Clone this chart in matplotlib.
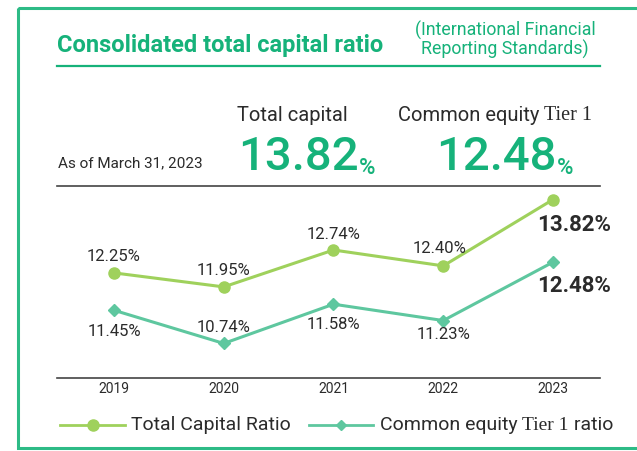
import matplotlib
matplotlib.use('Agg')
import matplotlib.pyplot as plt
from matplotlib import font_manager
from matplotlib.patches import Rectangle

years = ['2019', '2020', '2021', '2022', '2023']
total_ratio = [12.25, 11.95, 12.74, 12.40, 13.82]
cet1_ratio = [11.45, 10.74, 11.58, 11.23, 12.48]
total_labels = ['12.25%', '11.95%', '12.74%', '12.40%', '13.82%']
cet1_labels = ['11.45%', '10.74%', '11.58%', '11.23%', '12.48%']

GREEN = '#16b27a'
LIGHT = '#9fd15c'
TEAL = '#5ec79f'
DARK = '#2b2b2b'

names = {f.name for f in font_manager.fontManager.ttflist}
sans = 'Liberation Sans Narrow' if 'Liberation Sans Narrow' in names else 'Roboto'
serif = 'Liberation Serif'
plt.rcParams['font.family'] = [sans, 'DejaVu Sans']

W, H = 637, 451
fig = plt.figure(figsize=(W / 100, H / 100), dpi=100)

# invisible full-size axes in pixel units for all the header / legend text
ov = fig.add_axes([0, 0, 1, 1])
ov.set_xlim(0, W)
ov.set_ylim(H, 0)
ov.axis('off')


def after(prev, s, **kw):
    # put the next piece of text right after the previous one
    return ov.annotate(s, xy=(1, 0), xycoords=prev, va='bottom', **kw)


# frame
ov.add_patch(Rectangle((18, 8), W + 20, 440, fill=False, edgecolor='#2dbb86',
                       linewidth=2.2, clip_on=False))

# title
ov.text(57, 52, 'Consolidated total capital ratio', fontsize=17, fontweight='bold',
        color=GREEN, va='baseline')
ov.text(505, 40, '(International Financial\nReporting Standards)', fontsize=12.8,
        color=GREEN, ha='center', va='center', linespacing=0.95)
ov.plot([57, 600], [66, 66], color=GREEN, linewidth=1.6)

# headline numbers
ov.text(237, 121, 'Total capital', fontsize=14.5, color=DARK, va='baseline')
t = ov.text(398, 121, 'Common equity ', fontsize=14.5, color=DARK, va='baseline')
after(t, 'Tier 1', fontsize=14.5, color=DARK, family=serif)
ov.text(58, 167, 'As of March 31, 2023', fontsize=11, color=DARK, va='baseline')
t = ov.text(238, 170, '13.82', fontsize=34, fontweight='medium', color=GREEN, va='baseline')
after(t, '%', fontsize=16, fontweight='medium', color=GREEN)
t = ov.text(436, 170, '12.48', fontsize=34, fontweight='medium', color=GREEN, va='baseline')
after(t, '%', fontsize=16, fontweight='medium', color=GREEN)
ov.plot([57, 600], [186, 186], color='#444444', linewidth=1.2)

# line chart
ax = fig.add_axes([57 / W, 1 - 378 / H, 543 / W, 192 / H])
ax.patch.set_alpha(0)
xs = list(range(len(years)))
ax.plot(xs, total_ratio, color=LIGHT, linewidth=2.2, marker='o', markersize=8)
ax.plot(xs, cet1_ratio, color=TEAL, linewidth=2.2, marker='D', markersize=6)
ax.set_xlim(-0.519, 4.428)
ax.set_ylim(10.0, 14.11)
for s in ['top', 'left', 'right']:
    ax.spines[s].set_visible(False)
ax.spines['bottom'].set_color('#444444')
ax.spines['bottom'].set_linewidth(1.2)
ax.set_yticks([])
ax.set_xticks(xs)
ax.set_xticklabels(years, fontsize=10, color=DARK)
ax.tick_params(axis='x', length=0, pad=3)

total_off = [(0, 16), (0, 16), (0, 16), (-4, 17)]
cet1_off = [(0, -21), (0, 16), (0, -20), (0, -14)]
for i in range(4):
    ax.annotate(total_labels[i], (xs[i], total_ratio[i]), xytext=total_off[i],
                textcoords='offset pixels', ha='center', va='center', fontsize=12, color=DARK)
    ax.annotate(cet1_labels[i], (xs[i], cet1_ratio[i]), xytext=cet1_off[i],
                textcoords='offset pixels', ha='center', va='center', fontsize=12, color=DARK)
ax.annotate(total_labels[4], (xs[4], total_ratio[4]), xytext=(21, -25),
            textcoords='offset pixels', ha='center', va='center', fontsize=16,
            fontweight='bold', color=DARK)
ax.annotate(cet1_labels[4], (xs[4], cet1_ratio[4]), xytext=(21, -24),
            textcoords='offset pixels', ha='center', va='center', fontsize=16,
            fontweight='bold', color=DARK)

# legend
ov.plot([60, 125], [425, 425], color=LIGHT, linewidth=2)
ov.plot([93], [425], color=LIGHT, marker='o', markersize=8)
ov.text(131, 425, 'Total Capital Ratio', fontsize=14, color=DARK, va='center')
ov.plot([309, 373], [425, 425], color=TEAL, linewidth=2)
ov.plot([341], [425], color=TEAL, marker='D', markersize=5)
t = ov.text(380, 425, 'Common equity ', fontsize=14, color=DARK, va='center')
t2 = after(t, 'Tier 1', fontsize=14, color=DARK, family=serif)
after(t2, ' ratio', fontsize=14, color=DARK)

fig.savefig('out.png', dpi=100)
